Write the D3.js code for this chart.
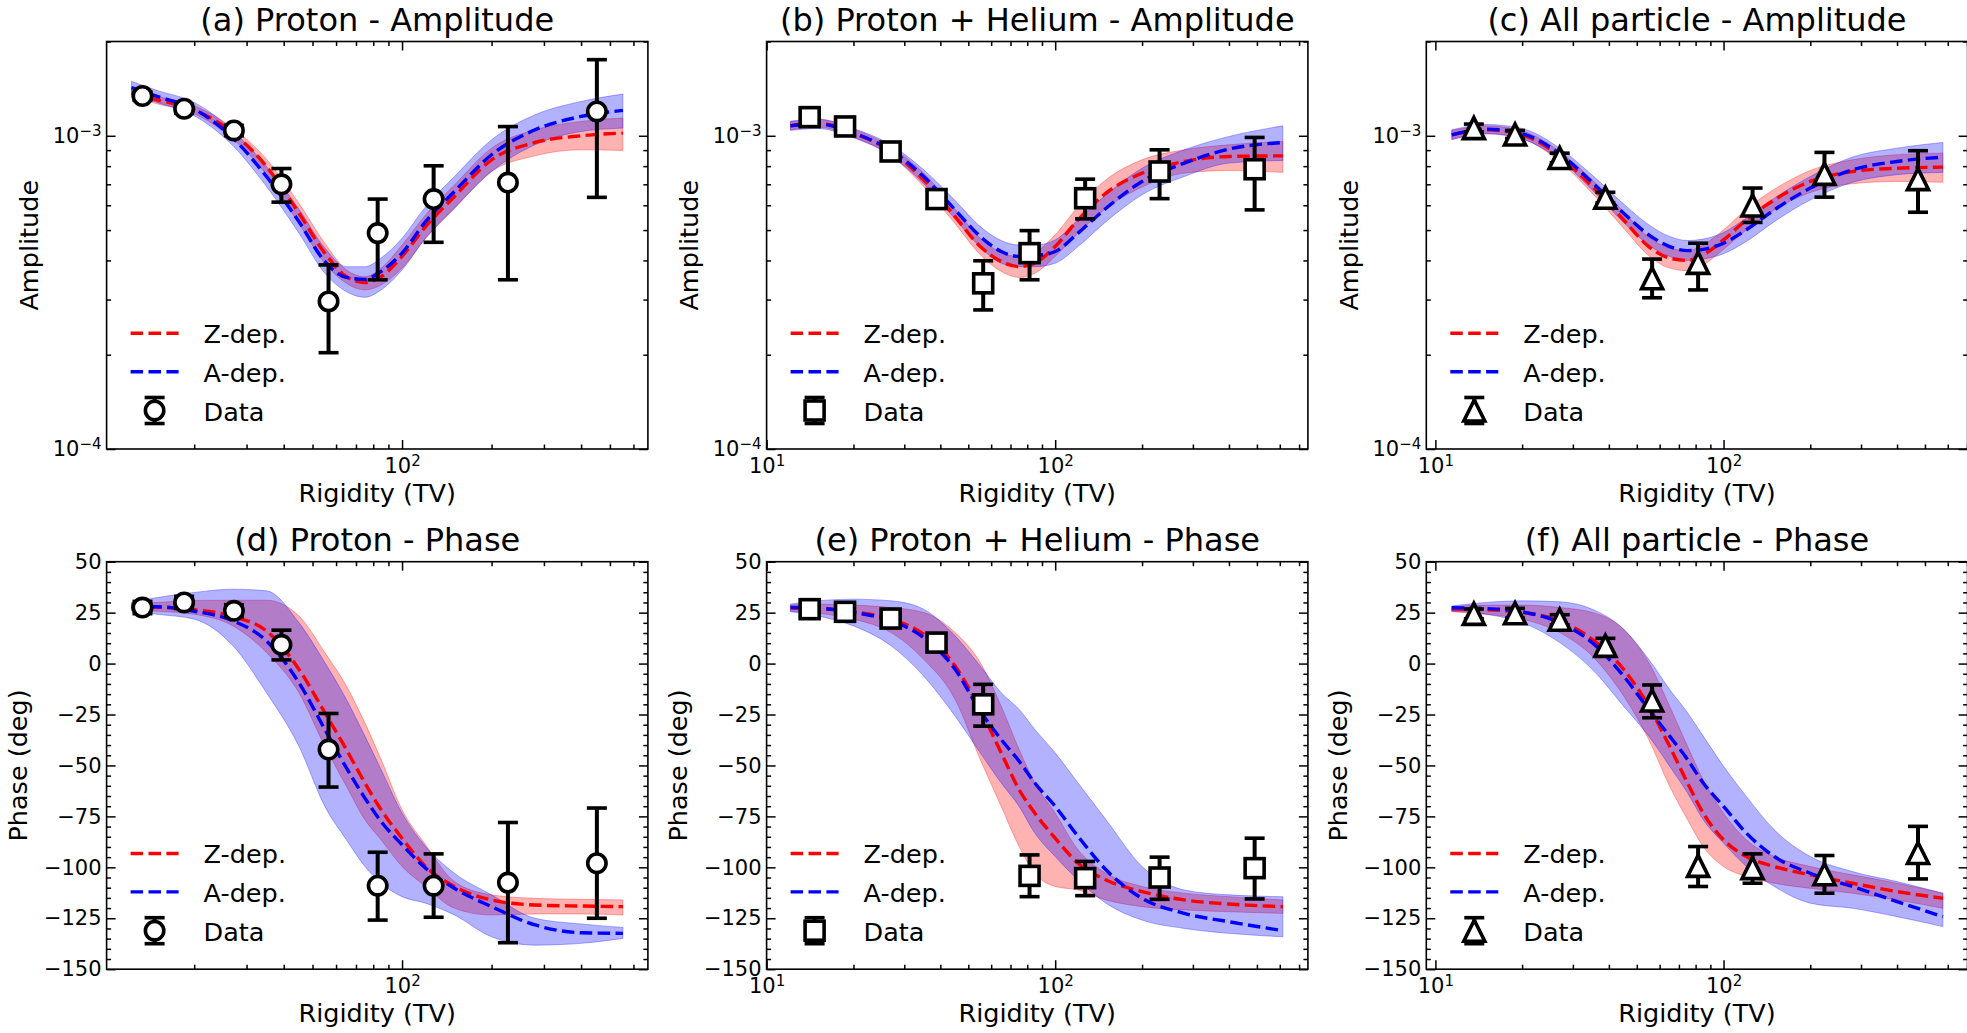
<!DOCTYPE html>
<html><head><meta charset="utf-8">
<script src="https://d3js.org/d3.v7.min.js"></script>
<style>
  body { margin: 0; background: #fff; }
  text { font-family: "DejaVu Sans", sans-serif; fill: #000; }
</style>
</head>
<body>
<svg id="fig" width="1967" height="1033" style="background:#fff"></svg>
<script>

// ---------- data: measured points (rigidity in TV, amplitude in units of 1e-3, phase in deg) ----------
const rigP   = [13.4, 18.5, 27.2, 39.3, 56.6, 82.8, 127.7, 227, 452];
const rigPHe = [14.1, 18.7, 26.9, 38.8, 56.3, 81.5, 127, 230, 491];
const rigAll = [13.6, 18.9, 27.0, 38.9, 56.5, 81.6, 126.1, 224, 473];

const ampP     = [1.34, 1.22, 1.04, 0.70, 0.296, 0.489, 0.628, 0.709, 1.196];
const ampPLo   = [1.30, 1.18, 1.00, 0.614, 0.203, 0.347, 0.457, 0.347, 0.636];
const ampPHi   = [1.38, 1.26, 1.08, 0.786, 0.387, 0.628, 0.802, 1.07, 1.75];
const ampPHe   = [1.147, 1.071, 0.891, 0.628, 0.338, 0.422, 0.632, 0.769, 0.782];
const ampPHeLo = [1.11, 1.035, 0.86, 0.60, 0.278, 0.347, 0.543, 0.630, 0.580];
const ampPHeHi = [1.185, 1.11, 0.925, 0.66, 0.399, 0.498, 0.727, 0.902, 0.988];
const ampAll   = [1.058, 1.010, 0.849, 0.634, 0.351, 0.393, 0.599, 0.756, 0.727];
const ampAllLo = [1.03, 0.98, 0.82, 0.61, 0.304, 0.322, 0.529, 0.637, 0.570];
const ampAllHi = [1.09, 1.04, 0.88, 0.66, 0.404, 0.454, 0.681, 0.885, 0.896];

const phP     = [27.5, 30.0, 25.9, 9.2, -42.2, -109.0, -109.0, -107.5, -98.0];
const phPLo   = [24.5, 27.0, 23.0, 1.8, -60.6, -125.9, -124.5, -137.0, -125.0];
const phPHi   = [30.5, 33.0, 28.9, 16.4, -24.5, -92.6, -93.4, -78.0, -70.9];
const phPHe   = [26.7, 25.4, 22.1, 10.3, -20.0, -104.2, -105.3, -105.0, -100.4];
const phPHeLo = [24.0, 22.7, 19.4, 7.6, -30.7, -114.4, -113.9, -115.7, -115.5];
const phPHeHi = [29.4, 28.1, 24.8, 13.0, -10.2, -93.9, -97.1, -95.0, -85.7];
const phAll   = [24.4, 24.7, 21.5, 8.7, -18.1, -99.3, -100.4, -103.4, -93.0];
const phAllLo = [22.0, 22.3, 19.0, 5.1, -26.6, -109.4, -107.8, -112.7, -105.7];
const phAllHi = [26.8, 27.1, 24.0, 12.4, -10.5, -89.8, -93.4, -94.2, -79.9];

const gridP   = [12.3, 15, 20, 27, 35, 45, 55, 65, 75, 85, 100, 120, 150, 200, 280, 400, 553];
const gridPHe = [12.1, 15, 20, 27, 35, 45, 55, 65, 75, 85, 100, 120, 150, 200, 280, 400, 615];
const gridAll = [11.4, 15, 20, 27, 35, 45, 55, 65, 75, 85, 100, 120, 150, 200, 280, 400, 577];

const ampZ_P   = [1.369, 1.303, 1.211, 1.020, 0.798, 0.566, 0.422, 0.355, 0.340, 0.355, 0.412, 0.513, 0.640, 0.838, 0.952, 1.000, 1.020];
const ampZLo_P = [1.329, 1.265, 1.176, 0.976, 0.751, 0.524, 0.392, 0.338, 0.322, 0.334, 0.378, 0.471, 0.587, 0.769, 0.863, 0.902, 0.898];
const ampZHi_P = [1.403, 1.336, 1.247, 1.058, 0.842, 0.609, 0.454, 0.373, 0.355, 0.378, 0.448, 0.559, 0.697, 0.913, 1.045, 1.111, 1.139];
const ampA_P   = [1.424, 1.336, 1.217, 0.983, 0.741, 0.532, 0.397, 0.353, 0.348, 0.369, 0.422, 0.532, 0.664, 0.870, 1.045, 1.153, 1.205];
const ampALo_P = [1.362, 1.278, 1.159, 0.929, 0.689, 0.489, 0.364, 0.318, 0.305, 0.322, 0.373, 0.471, 0.587, 0.769, 0.936, 1.032, 1.058];
const ampAHi_P = [1.492, 1.396, 1.278, 1.037, 0.798, 0.583, 0.438, 0.382, 0.382, 0.407, 0.471, 0.594, 0.741, 0.971, 1.167, 1.287, 1.359];

const ampZ_PHe   = [1.076, 1.098, 1.020, 0.891, 0.724, 0.552, 0.443, 0.397, 0.382, 0.392, 0.443, 0.539, 0.656, 0.760, 0.828, 0.859, 0.863];
const ampZLo_PHe = [1.045, 1.066, 0.990, 0.863, 0.689, 0.524, 0.417, 0.369, 0.353, 0.364, 0.412, 0.489, 0.587, 0.686, 0.760, 0.775, 0.764];
const ampZHi_PHe = [1.108, 1.130, 1.050, 0.920, 0.760, 0.583, 0.471, 0.424, 0.412, 0.424, 0.483, 0.594, 0.724, 0.838, 0.902, 0.936, 0.959];
const ampA_PHe   = [1.076, 1.092, 1.020, 0.898, 0.741, 0.580, 0.477, 0.427, 0.412, 0.414, 0.427, 0.489, 0.587, 0.715, 0.818, 0.907, 0.952];
const ampALo_PHe = [1.040, 1.055, 0.985, 0.863, 0.703, 0.542, 0.441, 0.392, 0.382, 0.382, 0.392, 0.443, 0.532, 0.648, 0.741, 0.818, 0.834];
const ampAHi_PHe = [1.114, 1.130, 1.055, 0.934, 0.779, 0.621, 0.513, 0.463, 0.448, 0.448, 0.465, 0.539, 0.648, 0.788, 0.902, 0.995, 1.076];

const ampZ_All   = [1.007, 1.045, 1.007, 0.859, 0.689, 0.539, 0.443, 0.407, 0.400, 0.417, 0.465, 0.539, 0.624, 0.715, 0.769, 0.788, 0.794];
const ampZLo_All = [0.976, 1.015, 0.978, 0.828, 0.656, 0.507, 0.414, 0.378, 0.371, 0.387, 0.434, 0.501, 0.580, 0.659, 0.703, 0.715, 0.710];
const ampZHi_All = [1.040, 1.076, 1.037, 0.891, 0.724, 0.573, 0.474, 0.438, 0.430, 0.448, 0.501, 0.583, 0.675, 0.775, 0.838, 0.870, 0.880];
const ampA_All   = [1.007, 1.050, 1.015, 0.876, 0.710, 0.566, 0.483, 0.443, 0.430, 0.434, 0.454, 0.501, 0.580, 0.681, 0.779, 0.828, 0.855];
const ampALo_All = [0.971, 1.015, 0.976, 0.838, 0.672, 0.529, 0.448, 0.412, 0.400, 0.404, 0.420, 0.460, 0.532, 0.624, 0.710, 0.751, 0.764];
const ampAHi_All = [1.045, 1.087, 1.055, 0.913, 0.749, 0.606, 0.520, 0.477, 0.463, 0.468, 0.491, 0.546, 0.632, 0.741, 0.855, 0.913, 0.952];

const phZ_P   = [27.9, 27.7, 26.4, 23.1, 16.0, -2.8, -24.1, -42.2, -58.6, -71.7, -85.7, -99.6, -109.4, -116.0, -118.5, -119.0, -119.3];
const phZLo_P = [26.4, 25.7, 24.2, 18.5, 5.4, -14.3, -40.6, -60.2, -76.6, -86.5, -99.6, -109.4, -120.1, -123.4, -122.9, -122.9, -123.4];
const phZHi_P = [29.5, 30.0, 31.0, 31.1, 31.1, 23.4, 5.4, -11.0, -29.1, -47.1, -71.7, -88.9, -107.0, -113.5, -115.2, -115.7, -116.0];
const phA_P   = [28.0, 27.9, 25.7, 21.0, 11.1, -9.4, -32.3, -51.2, -66.0, -77.5, -88.9, -100.4, -110.3, -119.3, -128.3, -132.1, -132.4];
const phALo_P = [25.9, 24.2, 21.8, 8.7, -14.3, -40.6, -70.1, -86.5, -99.6, -107.8, -114.4, -117.6, -123.4, -134.1, -138.2, -137.3, -134.9];
const phAHi_P = [30.0, 32.4, 34.9, 36.5, 35.7, 20.1, 0.5, -17.6, -35.6, -52.0, -73.4, -89.8, -102.9, -113.5, -125.0, -127.8, -129.5];

const phZ_PHe   = [27.4, 27.0, 25.4, 21.8, 14.4, -1.2, -22.5, -43.8, -61.9, -73.4, -85.7, -98.0, -106.2, -111.9, -116.0, -118.0, -119.3];
const phZLo_PHe = [25.7, 24.7, 21.8, 15.2, 2.1, -17.6, -47.1, -70.1, -89.8, -102.9, -109.4, -111.1, -116.0, -119.3, -120.9, -121.8, -122.6];
const phZHi_PHe = [28.7, 29.2, 28.7, 27.5, 25.1, 15.2, 0.5, -20.9, -42.2, -58.6, -73.4, -91.4, -102.9, -109.4, -112.7, -114.4, -116.0];
const phA_PHe   = [27.5, 27.2, 25.1, 21.0, 12.8, -2.8, -23.3, -37.3, -47.9, -58.6, -70.1, -84.8, -101.2, -115.2, -122.6, -126.7, -131.1];
const phALo_PHe = [25.4, 23.4, 18.5, 8.7, -6.1, -25.8, -43.8, -58.6, -70.1, -83.2, -94.7, -106.2, -117.6, -125.9, -130.0, -132.4, -134.1];
const phAHi_PHe = [29.2, 30.8, 31.6, 30.8, 26.7, 13.6, -1.2, -14.3, -22.5, -32.3, -43.8, -58.6, -76.6, -99.6, -111.1, -113.5, -114.4];

const phZ_All   = [26.7, 26.4, 25.1, 21.0, 11.9, -2.8, -20.9, -40.6, -58.6, -73.4, -86.5, -94.7, -99.6, -103.7, -107.8, -111.9, -115.2];
const phZLo_All = [25.4, 24.2, 21.8, 15.2, 3.7, -15.9, -37.3, -60.2, -76.6, -89.8, -99.6, -104.5, -107.8, -110.3, -112.7, -116.0, -120.1];
const phZHi_All = [28.0, 28.7, 28.7, 27.5, 25.1, 16.9, 0.5, -20.9, -40.6, -57.0, -73.4, -86.5, -94.7, -99.6, -103.7, -107.8, -112.7];
const phA_All   = [27.4, 27.0, 25.4, 20.1, 10.3, -6.1, -22.5, -35.6, -47.1, -58.6, -70.1, -83.2, -94.7, -102.9, -109.4, -116.8, -124.2];
const phALo_All = [25.7, 24.2, 20.1, 10.3, -2.8, -20.9, -35.6, -50.4, -63.5, -76.6, -88.1, -99.6, -109.4, -117.6, -120.1, -124.2, -129.1];
const phAHi_All = [28.3, 30.0, 30.8, 30.3, 26.7, 16.9, 2.1, -12.7, -24.1, -35.6, -50.4, -65.2, -81.6, -94.7, -102.1, -107.0, -112.7];

const titles = [
  ["(a) Proton - Amplitude", "(b) Proton + Helium - Amplitude", "(c) All particle - Amplitude"],
  ["(d) Proton - Phase", "(e) Proton + Helium - Phase", "(f) All particle - Phase"]
];
const legendLabels = ["Z-dep.", "A-dep.", "Data"];
const xDomains = [[10.15, 671], [10, 751], [9.3, 703]];
const ampDomain = [0.1, 2];          // units of 1e-3
const phaseDomain = [-150, 50];
const phaseMajor = d3.range(-150, 51, 25);
const phaseMinor = d3.range(-150, 51, 5).filter(v => v % 25 !== 0);

// ---------- panel table ----------
const sets = [
  { rig: rigP, grid: gridP, marker: "circle",
    amp: [ampP, ampPLo, ampPHi, ampZ_P, ampZLo_P, ampZHi_P, ampA_P, ampALo_P, ampAHi_P],
    ph:  [phP, phPLo, phPHi, phZ_P, phZLo_P, phZHi_P, phA_P, phALo_P, phAHi_P] },
  { rig: rigPHe, grid: gridPHe, marker: "square",
    amp: [ampPHe, ampPHeLo, ampPHeHi, ampZ_PHe, ampZLo_PHe, ampZHi_PHe, ampA_PHe, ampALo_PHe, ampAHi_PHe],
    ph:  [phPHe, phPHeLo, phPHeHi, phZ_PHe, phZLo_PHe, phZHi_PHe, phA_PHe, phALo_PHe, phAHi_PHe] },
  { rig: rigAll, grid: gridAll, marker: "triangle",
    amp: [ampAll, ampAllLo, ampAllHi, ampZ_All, ampZLo_All, ampZHi_All, ampA_All, ampALo_All, ampAHi_All],
    ph:  [phAll, phAllLo, phAllHi, phZ_All, phZLo_All, phZHi_All, phA_All, phALo_All, phAHi_All] }
];

// ---------- layout ----------
const svg = d3.select("#fig");
const W = 541.3, H = 407.5;
const colX = [106.6, 766.6, 1426.3];
const rowY = [41.5, 561.7];
const RED = "#ff0000", BLUE = "#0000ff";
const DASH = "12.5,5.4", LW = 3.4;

const isPow10 = v => Math.abs(Math.log10(v) - Math.round(Math.log10(v))) < 1e-6;

function powLabel(sel, expFn) {
  sel.each(function(d) {
    const t = d3.select(this).text(null);
    t.append("tspan").text("10");
    t.append("tspan").attr("dy", -7).attr("font-size", 15).text(expFn(d));
  });
}
const supText = e => (e < 0 ? "\u2212" + (-e) : "" + e);

function drawMarker(g, type, cx, cy) {
  if (type === "circle") {
    g.append("circle").attr("cx", cx).attr("cy", cy).attr("r", 9.2)
      .attr("fill", "#fff").attr("stroke", "#000").attr("stroke-width", 3.6);
  } else if (type === "square") {
    g.append("rect").attr("x", cx - 9.5).attr("y", cy - 9.5).attr("width", 19).attr("height", 19)
      .attr("fill", "#fff").attr("stroke", "#000").attr("stroke-width", 3.6);
  } else {
    g.append("path").attr("d", `M${cx},${cy - 10.5}L${cx + 10.5},${cy + 10.5}L${cx - 10.5},${cy + 10.5}Z`)
      .attr("fill", "#fff").attr("stroke", "#000").attr("stroke-width", 3.6).attr("stroke-linejoin", "miter");
  }
}

function errBar(g, cx, y0, y1) {
  g.append("line").attr("x1", cx).attr("x2", cx).attr("y1", y0).attr("y2", y1)
    .attr("stroke", "#000").attr("stroke-width", 4);
  [y0, y1].forEach(yy => g.append("line").attr("x1", cx - 10).attr("x2", cx + 10)
    .attr("y1", yy).attr("y2", yy).attr("stroke", "#000").attr("stroke-width", 3.6));
}

function styleAxis(g) {
  g.select(".domain").remove();
  g.attr("font-family", null).attr("font-size", null);
  g.selectAll(".tick line").attr("stroke", "#000").attr("stroke-width", 1.5);
  g.selectAll(".tick text").attr("font-size", 21).attr("fill", "#000");
}

for (let row = 0; row < 2; row++) {
  for (let col = 0; col < 3; col++) {
    const s = sets[col];
    const vals = row === 0 ? s.amp : s.ph;
    const g = svg.append("g").attr("transform", `translate(${colX[col]},${rowY[row]})`);

    const x = d3.scaleLog().domain(xDomains[col]).range([0, W]);
    const y = row === 0
      ? d3.scaleLog().domain(ampDomain).range([H, 0])
      : d3.scaleLinear().domain(phaseDomain).range([H, 0]);

    // bands
    const band = (lo, hi) => d3.area()
      .x((d, i) => x(s.grid[i])).y0((d, i) => y(lo[i])).y1((d, i) => y(hi[i]))
      .curve(d3.curveMonotoneX)(s.grid);
    g.append("path").attr("d", band(vals[4], vals[5]))
      .attr("fill", RED).attr("fill-opacity", 0.3)
      .attr("stroke", RED).attr("stroke-opacity", 0.3).attr("stroke-width", 1);
    g.append("path").attr("d", band(vals[7], vals[8]))
      .attr("fill", BLUE).attr("fill-opacity", 0.3)
      .attr("stroke", BLUE).attr("stroke-opacity", 0.3).attr("stroke-width", 1);

    // model lines
    const line = arr => d3.line().x((d, i) => x(s.grid[i])).y((d, i) => y(arr[i]))
      .curve(d3.curveMonotoneX)(s.grid);
    g.append("path").attr("d", line(vals[3])).attr("fill", "none")
      .attr("stroke", RED).attr("stroke-width", LW).attr("stroke-dasharray", DASH);
    g.append("path").attr("d", line(vals[6])).attr("fill", "none")
      .attr("stroke", BLUE).attr("stroke-width", LW).attr("stroke-dasharray", DASH);

    // data with error bars
    const dg = g.append("g");
    s.rig.forEach((r, i) => errBar(dg, x(r), y(vals[1][i]), y(vals[2][i])));
    s.rig.forEach((r, i) => drawMarker(dg, s.marker, x(r), y(vals[0][i])));

    // axes: x
    const xt = x.ticks();
    const xMaj = xt.filter(isPow10), xMin = xt.filter(v => !isPow10(v));
    g.append("g").attr("transform", `translate(0,${H})`)
      .call(d3.axisBottom(x).tickValues(xMin).tickSize(-4.5).tickFormat(""))
      .call(styleAxis);
    g.append("g").attr("transform", `translate(0,${H})`)
      .call(d3.axisBottom(x).tickValues(xMaj).tickSize(-9).tickPadding(9))
      .call(styleAxis)
      .selectAll(".tick text").call(powLabel, d => supText(Math.round(Math.log10(d))));
    g.append("g").call(d3.axisTop(x).tickValues(xMin).tickSize(-4.5).tickFormat("")).call(styleAxis);
    g.append("g").call(d3.axisTop(x).tickValues(xMaj).tickSize(-9).tickFormat("")).call(styleAxis);

    // axes: y
    let yMaj, yMin;
    if (row === 0) {
      const yt = y.ticks();
      yMaj = yt.filter(isPow10); yMin = yt.filter(v => !isPow10(v));
    } else { yMaj = phaseMajor; yMin = phaseMinor; }
    g.append("g").call(d3.axisLeft(y).tickValues(yMin).tickSize(-4.5).tickFormat("")).call(styleAxis);
    const ly = g.append("g").call(d3.axisLeft(y).tickValues(yMaj).tickSize(-9).tickPadding(5)
        .tickFormat(row === 0 ? null : d => d < 0 ? "\u2212" + (-d) : "" + d))
      .call(styleAxis);
    if (row === 0) ly.selectAll(".tick text").call(powLabel, d => supText(Math.round(Math.log10(d)) - 3));
    g.append("g").attr("transform", `translate(${W},0)`)
      .call(d3.axisRight(y).tickValues(yMin).tickSize(-4.5).tickFormat("")).call(styleAxis);
    g.append("g").attr("transform", `translate(${W},0)`)
      .call(d3.axisRight(y).tickValues(yMaj).tickSize(-9).tickFormat("")).call(styleAxis);

    // spines
    g.append("rect").attr("width", W).attr("height", H)
      .attr("fill", "none").attr("stroke", "#000").attr("stroke-width", 1.6);

    // labels
    g.append("text").attr("x", W / 2).attr("y", -10.5).attr("text-anchor", "middle")
      .attr("font-size", 32).text(titles[row][col]);
    g.append("text").attr("x", W / 2).attr("y", H + 52.7).attr("text-anchor", "middle")
      .attr("font-size", 25.5).text("Rigidity (TV)");
    const yl = row === 0 ? -68.6 : -79.6;
    g.append("text").attr("transform", `translate(${yl},${H / 2}) rotate(-90)`)
      .attr("text-anchor", "middle").attr("font-size", 25.5)
      .text(row === 0 ? "Amplitude" : "Phase (deg)");

    // legend
    const lg = g.append("g");
    const rowsY = [291.8, 330.2, 369];
    [[RED, 0], [BLUE, 1]].forEach(([c, k]) => {
      lg.append("line").attr("x1", 24).attr("x2", 72).attr("y1", rowsY[k]).attr("y2", rowsY[k])
        .attr("stroke", c).attr("stroke-width", LW).attr("stroke-dasharray", DASH);
    });
    errBar(lg, 48, rowsY[2] - 13, rowsY[2] + 13);
    drawMarker(lg, s.marker, 48, rowsY[2]);
    legendLabels.forEach((t, k) => lg.append("text").attr("x", 97).attr("y", rowsY[k] + 10)
      .attr("font-size", 25.5).text(t));
  }
}
</script>
</body>
</html>
